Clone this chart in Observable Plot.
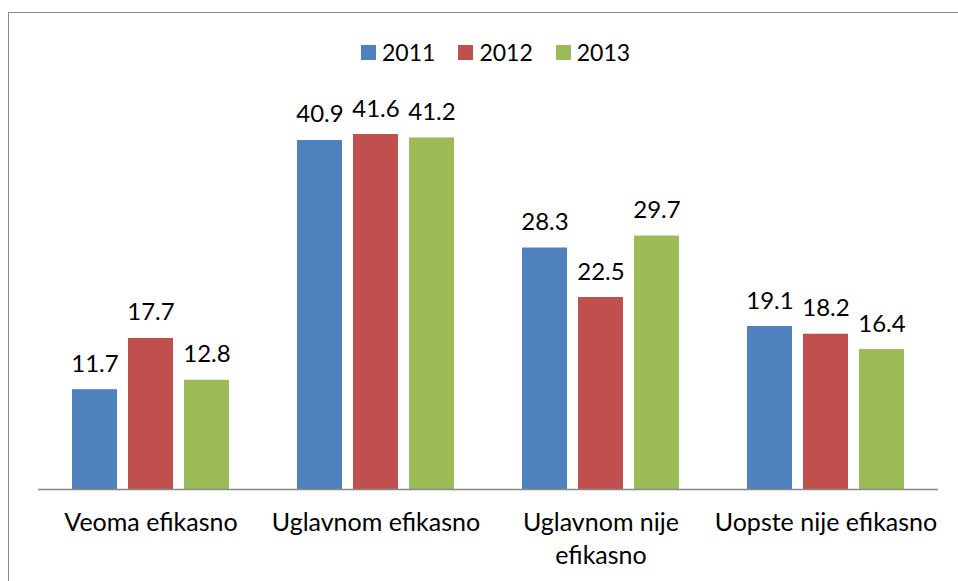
<!DOCTYPE html>
<html>
<head>
<meta charset="utf-8">
<script src="https://cdn.jsdelivr.net/npm/d3@7"></script>
<script src="https://cdn.jsdelivr.net/npm/@observablehq/plot@0.6"></script>
<style>
  html, body { margin: 0; padding: 0; background: #fff; overflow: hidden; }
  #wrap { position: relative; width: 958px; height: 581px; font-family: Lato, sans-serif; }
  #frame { position: absolute; left: 8px; top: 12px; width: 1000px; height: 1000px;
           border-left: 1.5px solid #888; border-top: 1.5px solid #888; pointer-events: none; }
  #legend { position: absolute; left: 361px; top: 38px; display: flex; align-items: center;
            font-size: 23px; color: #000; }
  #legend .sw { width: 15px; height: 15px; margin-right: 6px; }
  #legend .lab { margin-right: 23px; }
</style>
</head>
<body>
<div id="wrap">
  <div id="chart"></div>
  <div id="frame"></div>
  <div id="legend"></div>
</div>
<script>
const categories = ["Veoma efikasno", "Uglavnom efikasno", "Uglavnom nije efikasno", "Uopste nije efikasno"];
const categoryLabels = ["Veoma efikasno", "Uglavnom efikasno", "Uglavnom nije\nefikasno", "Uopste nije efikasno"];
const years = ["2011", "2012", "2013"];
const colors = ["#4F81BD", "#C0504D", "#9BBB59"];
const values2011 = [11.7, 40.9, 28.3, 19.1];
const values2012 = [17.7, 41.6, 22.5, 18.2];
const values2013 = [12.8, 41.2, 29.7, 16.4];

const series = [values2011, values2012, values2013];
const data = [];
categories.forEach((c, i) => {
  years.forEach((y, j) => data.push({cat: c, year: y, value: series[j][i]}));
});
const labelOf = new Map(categories.map((c, i) => [c, categoryLabels[i]]));

const chart = Plot.plot({
  width: 958,
  height: 581,
  marginLeft: 38,
  marginRight: 20,
  marginTop: 105,
  marginBottom: 92,
  style: {fontFamily: "Lato, sans-serif", fontSize: "24px", color: "#000", background: "transparent"},
  fx: {domain: categories, padding: 0},
  x: {domain: years, paddingInner: 0.2, paddingOuter: 0.6, axis: null},
  y: {domain: [0, 45], axis: null},
  color: {domain: years, range: colors},
  marks: [
    Plot.barY(data, {fx: "cat", x: "year", y: "value", fill: "year"}),
    Plot.ruleY([0], {stroke: "#898989", strokeWidth: 1.5}),
    Plot.text(data, {fx: "cat", x: "year", y: "value", text: d => d.value.toFixed(1),
      lineAnchor: "bottom", dy: -18, fontSize: 24, fill: "#000"}),
    Plot.axisFx({anchor: "bottom", tickSize: 0, tickPadding: 18, fontSize: 25,
      lineHeight: 1.32, tickFormat: d => labelOf.get(d), label: null})
  ]
});
document.getElementById("chart").appendChild(chart);

const legend = d3.select("#legend");
years.forEach((y, i) => {
  legend.append("div").attr("class", "sw").style("background", chart.scale("color").apply(y));
  legend.append("div").attr("class", "lab").text(y);
});
</script>
</body>
</html>
